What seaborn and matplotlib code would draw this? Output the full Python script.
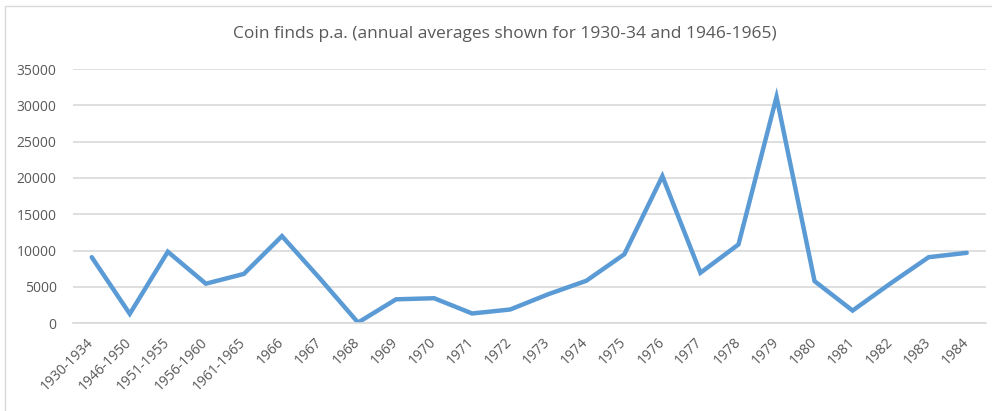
import matplotlib
matplotlib.use('Agg')
import matplotlib.pyplot as plt
import seaborn as sns
from matplotlib.lines import Line2D

# Data
periods = ['1930-1934', '1946-1950', '1951-1955', '1956-1960', '1961-1965',
           '1966', '1967', '1968', '1969', '1970', '1971', '1972', '1973',
           '1974', '1975', '1976', '1977', '1978', '1979', '1980', '1981',
           '1982', '1983', '1984']
coin_finds = [9100, 1300, 9850, 5450, 6800, 12000, 6150, 100, 3300, 3450,
              1350, 1900, 4000, 5850, 9500, 20250, 6950, 10850, 31150, 5800,
              1750, 5500, 9100, 9700]

sns.set_theme(style='white')
plt.rcParams['font.family'] = ['Open Sans', 'DejaVu Sans']

fig = plt.figure(figsize=(9.92, 4.11), dpi=100)
ax = fig.add_axes([0.0733, 0.2134, 0.9204, 0.6187])

x = list(range(len(periods)))
sns.lineplot(x=x, y=coin_finds, ax=ax, color='#5B9BD5', linewidth=3.2,
             solid_joinstyle='miter')

ax.set_xlim(-0.5, len(periods) - 0.5)
ax.set_ylim(0, 35000)
ax.set_yticks(range(0, 35001, 5000))
ax.set_xticks(x)
ax.set_xticklabels(periods, rotation=45, ha='right', va='center',
                   rotation_mode='anchor')
ax.tick_params(axis='both', length=0, colors='#595959', labelsize=10)
ax.tick_params(axis='x', pad=12)
ax.tick_params(axis='y', pad=11.5)
ax.yaxis.grid(True, color='#D9D9D9', linewidth=1.2)
ax.set_axisbelow(True)
for side in ['top', 'right', 'left']:
    ax.spines[side].set_visible(False)
ax.spines['bottom'].set_color('#D9D9D9')
ax.spines['bottom'].set_linewidth(1.2)

fig.text(0.509, 0.917, 'Coin finds p.a. (annual averages shown for 1930-34 and 1946-1965)',
         ha='center', va='center', fontsize=12.5, color='#595959')

# chart-area border (left and top edges visible in the crop)
fig.add_artist(Line2D([0.0055, 0.0055], [0.0, 0.985], transform=fig.transFigure,
                      color='#D9D9D9', linewidth=1))
fig.add_artist(Line2D([0.0055, 1.0], [0.985, 0.985], transform=fig.transFigure,
                      color='#D9D9D9', linewidth=1))

fig.savefig('out.png', dpi=100)
